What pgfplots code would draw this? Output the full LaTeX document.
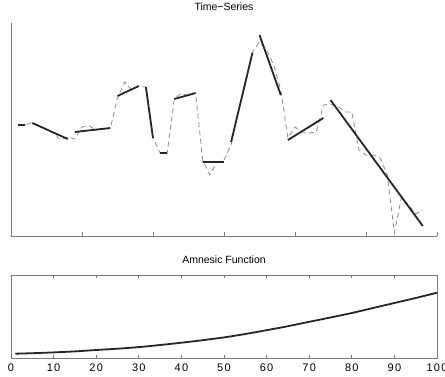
\documentclass[border=0pt]{standalone}
\usepackage{pgfplots}
\pgfplotsset{compat=1.18}
\usepackage{fontspec}
\setmainfont{Liberation Sans}
\definecolor{axisgray}{HTML}{7A7A7A}
\definecolor{dashgray}{HTML}{8C8C8C}
\definecolor{segblack}{HTML}{262626}
\begin{document}
\begin{tikzpicture}[font=\fontsize{10.5}{12}\selectfont]
\path[use as bounding box] (0,0) rectangle (445pt,376pt);
\begin{axis}[
  at={(11pt,140pt)}, anchor=south west, scale only axis,
  width=426pt, height=213pt,
  xmin=0, xmax=60, ymin=0, ymax=213,
  axis lines=left, axis line style={-, draw=axisgray, line width=0.8pt},
  xtick={10,20,...,60}, xticklabels={}, ytick=\empty,
  tick align=inside, major tick length=4pt,
  tick style={draw=axisgray, line width=0.8pt},
  title={Time−Series},
  title style={at={(0.5,1)}, anchor=base, yshift=7pt},
  unbounded coords=jump,
]
\addplot[dashgray, line width=0.8pt, dash pattern=on 5pt off 3.5pt] coordinates {
(1,111)(2,111)(3,114)(4,110)(5,107)(6,103)(7,96)(8,99)(9,97)(10,109)
(11,110)(12,106)(13,107)(14,108)(15,138)(16,154)(17,146)(18,150)(19,149)(20,98)
(21,83)(22,83)(23,137)(24,143)(25,140)(26,143)(27,76)(28,61)(29,74)(30,76)
(31,91)(32,124)(33,151)(34,184)(35,194)(36,186)(37,171)(38,146)(39,98)(40,109)
(41,104)(42,103)(43,104)(44,131)(45,132)(46,130)(47,124)(48,124)(49,86)(50,81)
(51,81)(52,78)(53,61)(54,3)(55,39)(56,31)(57,22)(58,26)
};
\addplot[segblack, line width=1.8pt] coordinates {
(1,111)(2,111) (2,nan)
(3,113)(8,97) (8,nan)
(9,104)(14,108) (14,nan)
(15,140)(18,150) (18,nan)
(19,149)(20,98) (20,nan)
(21,83)(22,83) (22,nan)
(23,137)(26,143) (26,nan)
(27,74)(30,74) (30,nan)
(31,94)(34,183) (34,nan)
(35,201)(38,141) (38,nan)
(39,96)(44,118) (44,nan)
(45,136)(58,10)
};
\end{axis}
\begin{axis}[
  at={(11pt,18pt)}, anchor=south west, scale only axis,
  width=426pt, height=83pt,
  xmin=0, xmax=100, ymin=0, ymax=83,
  xtick={0,10,...,100}, ytick=\empty,
  axis line style={draw=axisgray, line width=0.8pt},
  tick align=inside, major tick length=3.5pt,
  tick style={draw=axisgray, line width=0.8pt},
  xticklabel style={anchor=base, yshift=-13.5pt, text=black,
    font=\fontsize{11}{13}\selectfont\addfontfeature{LetterSpace=12}},
  /pgf/number format/assume math mode=true,
  title={Amnesic Function},
  title style={at={(0.5,1)}, anchor=base, yshift=5.5pt},
]
\addplot[segblack, line width=1.8pt, smooth] coordinates {
(1,4.3)(5,4.8)(10,5.6)(15,6.6)(20,8.0)(25,9.3)(30,10.9)(35,13.0)(40,15.3)
(45,17.8)(50,20.6)(55,24.0)(60,27.8)(65,31.8)(70,36.2)(75,40.5)(80,45.0)
(85,50.0)(90,55.0)(95,60.0)(100,65.3)
};
\end{axis}
\end{tikzpicture}
\end{document}
